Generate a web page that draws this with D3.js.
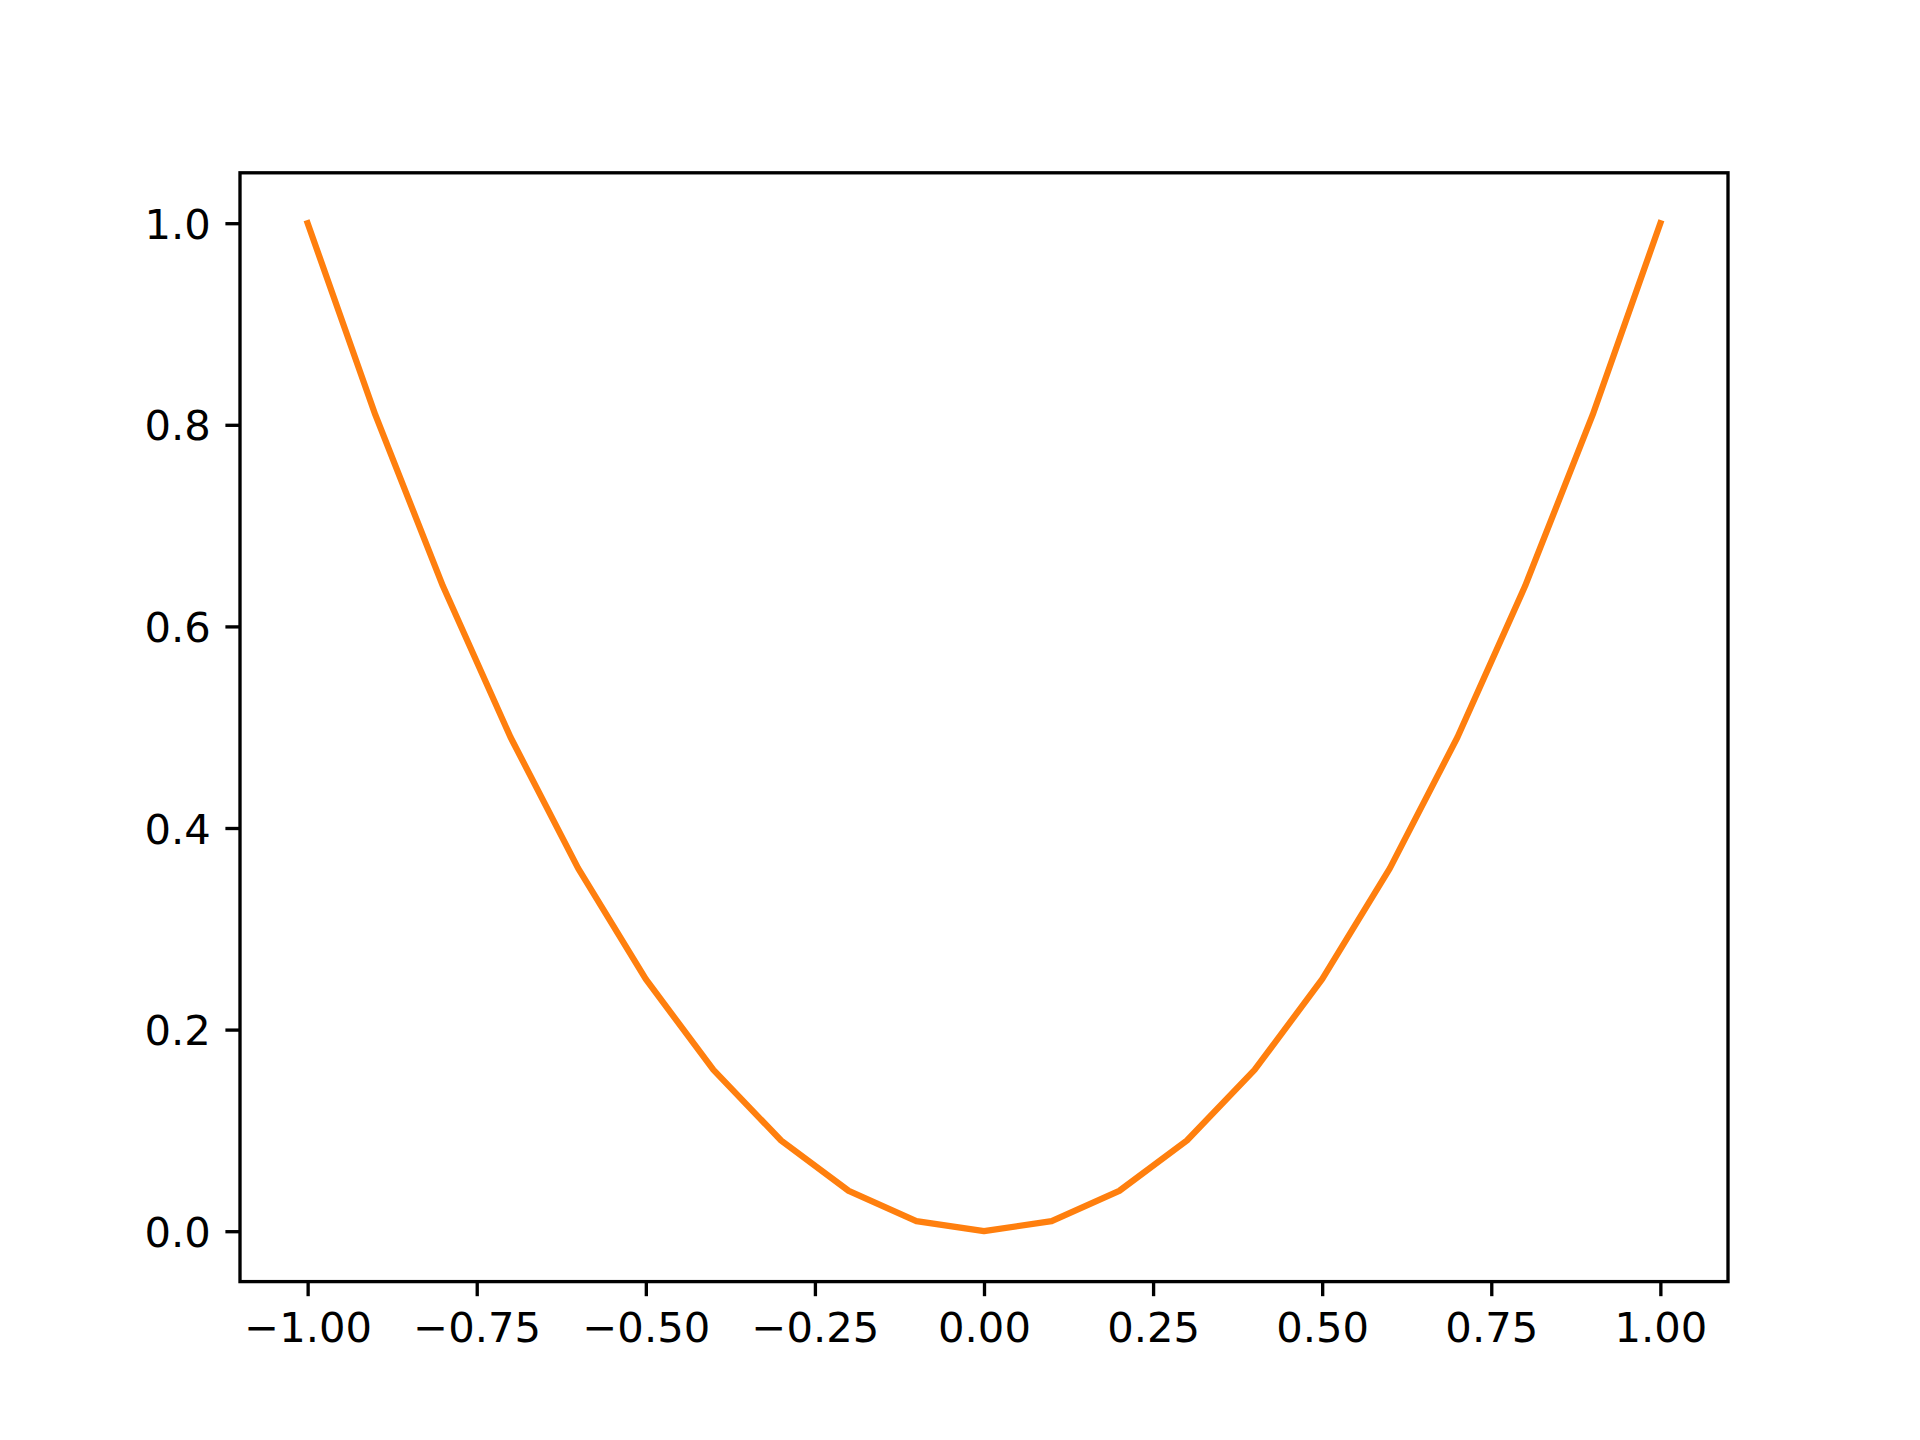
<!DOCTYPE html>
<html>
<head>
<meta charset="utf-8">
<script src="https://cdn.jsdelivr.net/npm/d3@7"></script>
<style>
  body { margin: 0; background: #fff; }
  svg text { font-family: "DejaVu Sans", sans-serif; }
</style>
</head>
<body>
<svg width="1920" height="1440"></svg>
<script>
// the points of the curve
const xValues = [-1.0, -0.9, -0.8, -0.7, -0.6, -0.5, -0.4, -0.3, -0.2, -0.1, 0.0,
                 0.1, 0.2, 0.3, 0.4, 0.5, 0.6, 0.7, 0.8, 0.9, 1.0];
const yValues = [1.0, 0.81, 0.64, 0.49, 0.36, 0.25, 0.16, 0.09, 0.04, 0.01, 0.0,
                 0.01, 0.04, 0.09, 0.16, 0.25, 0.36, 0.49, 0.64, 0.81, 1.0];

const xTicks = [-1.0, -0.75, -0.5, -0.25, 0.0, 0.25, 0.5, 0.75, 1.0];
const yTicks = [0.0, 0.2, 0.4, 0.6, 0.8, 1.0];

const svg = d3.select('svg');

// axes box, same as matplotlib default figure
const boxLeft = 240, boxRight = 1728, boxTop = 172.8, boxBottom = 1281.6;

const x = d3.scaleLinear().domain([-1.1, 1.1]).range([boxLeft, boxRight]);
const y = d3.scaleLinear().domain([-0.05, 1.05]).range([boxBottom, boxTop]);

const minus = s => s.replace('-', '\u2212');

const tickLen = 14.6, tickPad = 14.6, fontSize = 41.7;

// x axis
const xAxis = svg.append('g')
  .attr('transform', `translate(0,${boxBottom})`)
  .call(d3.axisBottom(x).tickValues(xTicks)
    .tickFormat(d => minus(d3.format('.2f')(d)))
    .tickSize(tickLen).tickPadding(tickPad));
xAxis.select('.domain').remove();
xAxis.selectAll('line').attr('stroke', '#000').attr('stroke-width', 3.33);
xAxis.selectAll('text')
  .attr('font-size', fontSize)
  .attr('fill', '#000')
  .attr('dy', '0.76em');

// y axis
const yAxis = svg.append('g')
  .attr('transform', `translate(${boxLeft},0)`)
  .call(d3.axisLeft(y).tickValues(yTicks)
    .tickFormat(d3.format('.1f'))
    .tickSize(tickLen).tickPadding(tickPad));
yAxis.select('.domain').remove();
yAxis.selectAll('line').attr('stroke', '#000').attr('stroke-width', 3.33);
yAxis.selectAll('text')
  .attr('font-size', fontSize)
  .attr('fill', '#000')
  .attr('dy', '0.36em');

// the line
const line = d3.line()
  .x((d, i) => x(xValues[i]))
  .y(d => y(d));

svg.append('path')
  .datum(yValues)
  .attr('d', line)
  .attr('fill', 'none')
  .attr('stroke', '#ff7f0e')
  .attr('stroke-width', 6.25)
  .attr('stroke-linecap', 'square')
  .attr('stroke-linejoin', 'round');

// frame
svg.append('rect')
  .attr('x', boxLeft).attr('y', boxTop)
  .attr('width', boxRight - boxLeft).attr('height', boxBottom - boxTop)
  .attr('fill', 'none')
  .attr('stroke', '#000')
  .attr('stroke-width', 3.33)
  .attr('stroke-linejoin', 'miter');
</script>
</body>
</html>
